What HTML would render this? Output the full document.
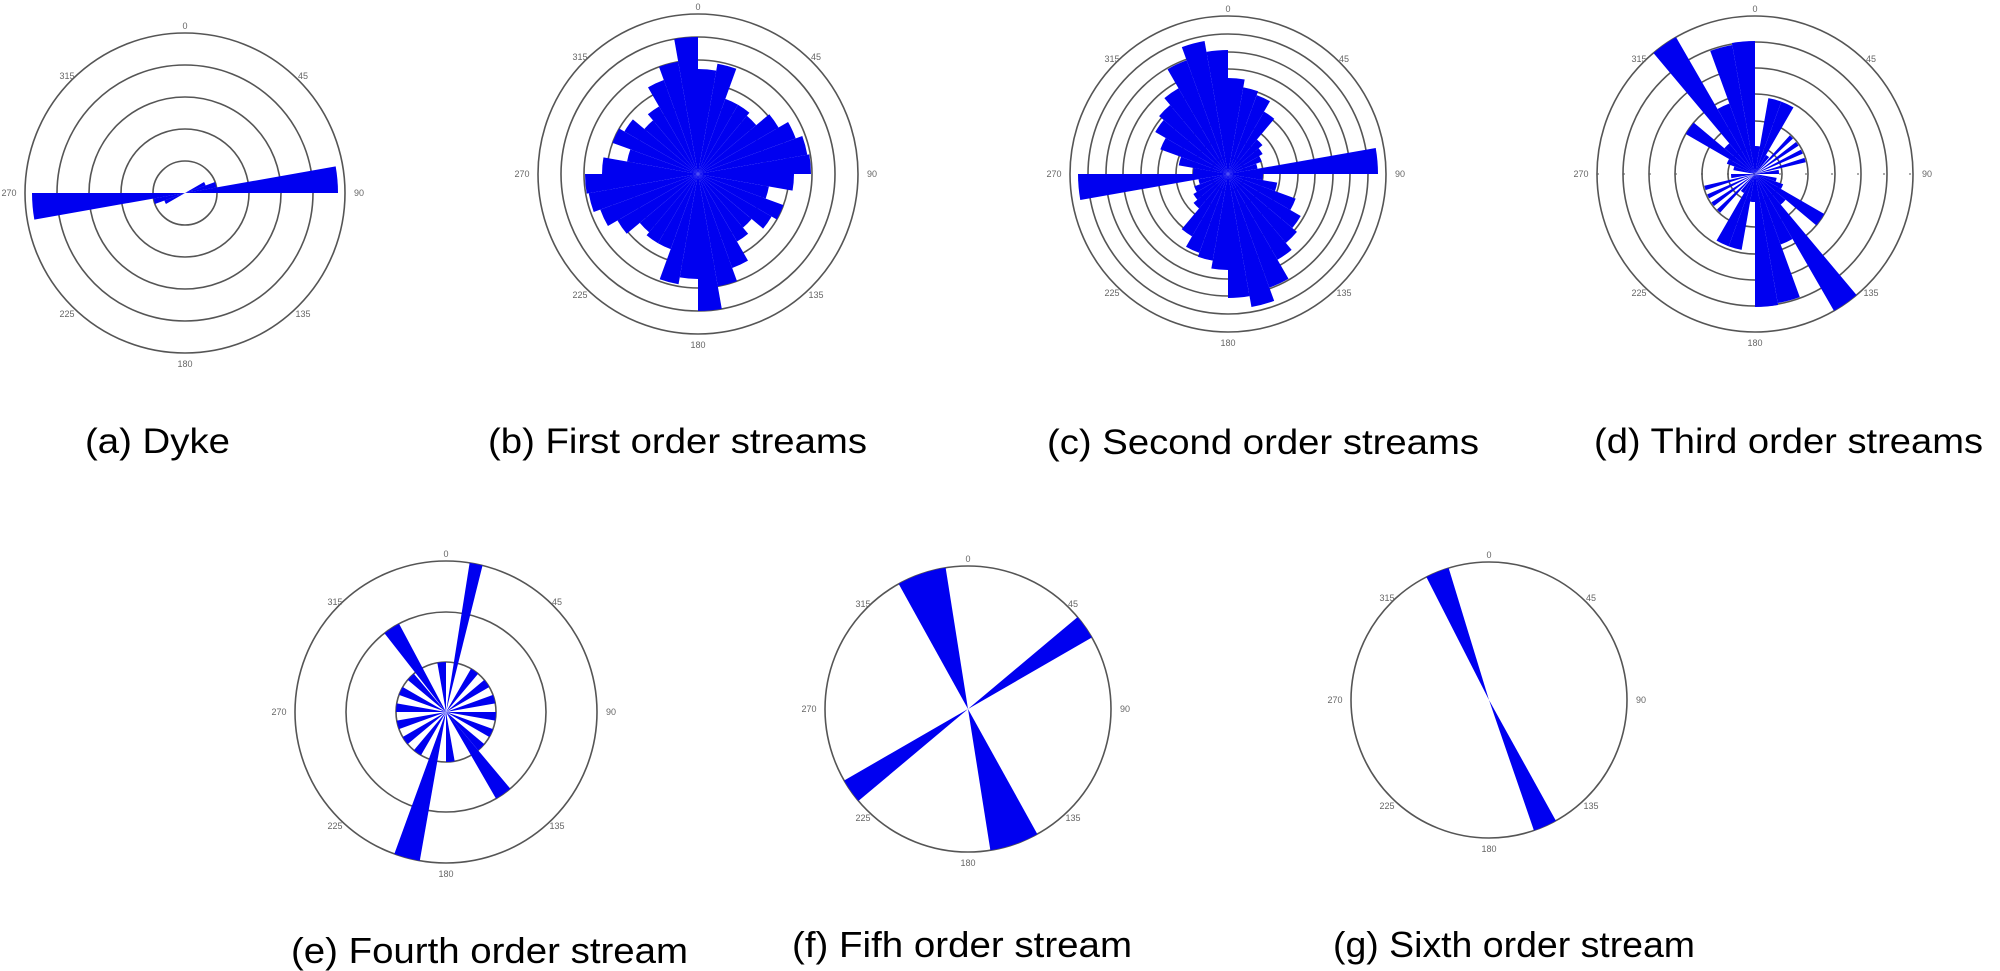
<!DOCTYPE html>
<html><head><meta charset="utf-8"><style>
html,body{margin:0;padding:0;background:#fff;}
svg{display:block;}
.r{fill:none;stroke:#555;stroke-width:1.6;}
.b{fill:#0000f0;}
.t{font-family:"Liberation Sans",Arial,sans-serif;fill:#000;}
.s{font-family:"Liberation Sans",Arial,sans-serif;fill:#666;font-size:9px;text-anchor:middle;}
</style></head><body>
<svg width="2000" height="971" viewBox="0 0 2000 971" xmlns="http://www.w3.org/2000/svg">
<defs>
<path id="w10" d="M0 0 L0 -1 A1 1 0 0 1 0.17365 -0.98481 Z"/>
<path id="w5" d="M0 0 L0 -1 A1 1 0 0 1 0.08716 -0.99619 Z"/>
<path id="w20" d="M0 0 L0 -1 A1 1 0 0 1 0.34202 -0.93969 Z"/>
<path id="w12" d="M0 0 L0 -1 A1 1 0 0 1 0.20791 -0.97815 Z"/>
</defs>

<!-- (a) Dyke -->
<g transform="translate(185,193)">
<circle class="r" r="160"/><circle class="r" r="128"/><circle class="r" r="96"/><circle class="r" r="64"/><circle class="r" r="32"/>
<g class="b">
<use href="#w10" transform="rotate(80) scale(153)"/><use href="#w10" transform="rotate(260) scale(153)"/>
<use href="#w10" transform="rotate(70) scale(32)"/><use href="#w10" transform="rotate(250) scale(32)"/>
<use href="#w10" transform="rotate(60) scale(22)"/><use href="#w10" transform="rotate(240) scale(22)"/>
</g>
<text class="s" x="0" y="-164">0</text><text class="s" x="0" y="174">180</text>
<text class="s" x="-176" y="3">270</text><text class="s" x="174" y="3">90</text>
<text class="s" x="-118" y="-114">315</text><text class="s" x="118" y="-114">45</text>
<text class="s" x="-118" y="124">225</text><text class="s" x="118" y="124">135</text>
</g>

<!-- (b) First order -->
<g transform="translate(698,174)">
<circle class="r" r="160"/><circle class="r" r="137"/><circle class="r" r="114"/><circle class="r" r="91"/><circle class="r" r="68"/>
<g class="b">
<use href="#w10" transform="rotate(0) scale(105)"/><use href="#w10" transform="rotate(180) scale(105)"/>
<use href="#w10" transform="rotate(10) scale(112)"/><use href="#w10" transform="rotate(190) scale(112)"/>
<use href="#w10" transform="rotate(20) scale(80)"/><use href="#w10" transform="rotate(200) scale(80)"/>
<use href="#w10" transform="rotate(30) scale(80)"/><use href="#w10" transform="rotate(210) scale(80)"/>
<use href="#w10" transform="rotate(40) scale(76)"/><use href="#w10" transform="rotate(220) scale(76)"/>
<use href="#w10" transform="rotate(50) scale(93)"/><use href="#w10" transform="rotate(230) scale(93)"/>
<use href="#w10" transform="rotate(60) scale(104)"/><use href="#w10" transform="rotate(240) scale(104)"/>
<use href="#w10" transform="rotate(70) scale(111)"/><use href="#w10" transform="rotate(250) scale(111)"/>
<use href="#w10" transform="rotate(80) scale(113)"/><use href="#w10" transform="rotate(260) scale(113)"/>
<use href="#w10" transform="rotate(90) scale(96)"/><use href="#w10" transform="rotate(270) scale(96)"/>
<use href="#w10" transform="rotate(100) scale(72)"/><use href="#w10" transform="rotate(280) scale(72)"/>
<use href="#w10" transform="rotate(110) scale(91)"/><use href="#w10" transform="rotate(290) scale(91)"/>
<use href="#w10" transform="rotate(120) scale(85)"/><use href="#w10" transform="rotate(300) scale(85)"/>
<use href="#w10" transform="rotate(130) scale(70)"/><use href="#w10" transform="rotate(310) scale(70)"/>
<use href="#w10" transform="rotate(140) scale(78)"/><use href="#w10" transform="rotate(320) scale(78)"/>
<use href="#w10" transform="rotate(150) scale(100)"/><use href="#w10" transform="rotate(330) scale(100)"/>
<use href="#w10" transform="rotate(160) scale(114)"/><use href="#w10" transform="rotate(340) scale(114)"/>
<use href="#w10" transform="rotate(170) scale(137)"/><use href="#w10" transform="rotate(350) scale(137)"/>
</g>
<text class="s" x="0" y="-164">0</text><text class="s" x="0" y="174">180</text>
<text class="s" x="-176" y="3">270</text><text class="s" x="174" y="3">90</text>
<text class="s" x="-118" y="-114">315</text><text class="s" x="118" y="-114">45</text>
<text class="s" x="-118" y="124">225</text><text class="s" x="118" y="124">135</text>
</g>

<!-- (c) Second order -->
<g transform="translate(1228,174)">
<circle class="r" r="158"/><circle class="r" r="140"/><circle class="r" r="122"/><circle class="r" r="105"/><circle class="r" r="87"/><circle class="r" r="70"/><circle class="r" r="52"/><circle class="r" r="35"/><circle class="r" r="17"/>
<g class="b">
<use href="#w10" transform="rotate(0) scale(96)"/><use href="#w10" transform="rotate(180) scale(96)"/>
<use href="#w10" transform="rotate(10) scale(88)"/><use href="#w10" transform="rotate(190) scale(88)"/>
<use href="#w10" transform="rotate(20) scale(84)"/><use href="#w10" transform="rotate(200) scale(84)"/>
<use href="#w10" transform="rotate(30) scale(72)"/><use href="#w10" transform="rotate(210) scale(72)"/>
<use href="#w10" transform="rotate(40) scale(45)"/><use href="#w10" transform="rotate(220) scale(45)"/>
<use href="#w10" transform="rotate(50) scale(40)"/><use href="#w10" transform="rotate(230) scale(40)"/>
<use href="#w10" transform="rotate(60) scale(36)"/><use href="#w10" transform="rotate(240) scale(36)"/>
<use href="#w10" transform="rotate(70) scale(30)"/><use href="#w10" transform="rotate(250) scale(30)"/>
<use href="#w10" transform="rotate(80) scale(150)"/><use href="#w10" transform="rotate(260) scale(150)"/>
<use href="#w10" transform="rotate(90) scale(35)"/><use href="#w10" transform="rotate(270) scale(35)"/>
<use href="#w10" transform="rotate(100) scale(50)"/><use href="#w10" transform="rotate(280) scale(50)"/>
<use href="#w10" transform="rotate(110) scale(72)"/><use href="#w10" transform="rotate(290) scale(72)"/>
<use href="#w10" transform="rotate(120) scale(84)"/><use href="#w10" transform="rotate(300) scale(84)"/>
<use href="#w10" transform="rotate(130) scale(90)"/><use href="#w10" transform="rotate(310) scale(90)"/>
<use href="#w10" transform="rotate(140) scale(99)"/><use href="#w10" transform="rotate(320) scale(99)"/>
<use href="#w10" transform="rotate(150) scale(121)"/><use href="#w10" transform="rotate(330) scale(121)"/>
<use href="#w10" transform="rotate(160) scale(135)"/><use href="#w10" transform="rotate(340) scale(135)"/>
<use href="#w10" transform="rotate(170) scale(124)"/><use href="#w10" transform="rotate(350) scale(124)"/>
</g>
<text class="s" x="0" y="-162">0</text><text class="s" x="0" y="172">180</text>
<text class="s" x="-174" y="3">270</text><text class="s" x="172" y="3">90</text>
<text class="s" x="-116" y="-112">315</text><text class="s" x="116" y="-112">45</text>
<text class="s" x="-116" y="122">225</text><text class="s" x="116" y="122">135</text>
</g>

<!-- (d) Third order -->
<g transform="translate(1755,174)">
<circle class="r" r="158"/><circle class="r" r="132"/><circle class="r" r="106"/><circle class="r" r="80"/><circle class="r" r="53"/><circle class="r" r="27"/>
<line x1="-158" y1="0" x2="158" y2="0" stroke="#555" stroke-width="1" stroke-dasharray="2 24"/>
<g class="b">
<use href="#w10" transform="rotate(0) scale(28)"/><use href="#w10" transform="rotate(180) scale(28)"/>
<use href="#w10" transform="rotate(10) scale(77)"/><use href="#w10" transform="rotate(190) scale(77)"/>
<use href="#w10" transform="rotate(20) scale(77)"/><use href="#w10" transform="rotate(200) scale(77)"/>
<use href="#w10" transform="rotate(30) scale(22)"/><use href="#w10" transform="rotate(210) scale(22)"/>
<use href="#w5" transform="rotate(42) scale(52)"/><use href="#w5" transform="rotate(222) scale(52)"/>
<use href="#w5" transform="rotate(52) scale(52)"/><use href="#w5" transform="rotate(232) scale(52)"/>
<use href="#w5" transform="rotate(62) scale(52)"/><use href="#w5" transform="rotate(242) scale(52)"/>
<use href="#w5" transform="rotate(72) scale(52)"/><use href="#w5" transform="rotate(252) scale(52)"/>
<use href="#w10" transform="rotate(80) scale(24)"/><use href="#w10" transform="rotate(260) scale(24)"/>
<use href="#w10" transform="rotate(100) scale(22)"/><use href="#w10" transform="rotate(280) scale(22)"/>
<use href="#w10" transform="rotate(110) scale(30)"/><use href="#w10" transform="rotate(290) scale(30)"/>
<use href="#w10" transform="rotate(120) scale(80)"/><use href="#w10" transform="rotate(300) scale(80)"/>
<use href="#w10" transform="rotate(130) scale(40)"/><use href="#w10" transform="rotate(310) scale(40)"/>
<use href="#w10" transform="rotate(140) scale(158)"/><use href="#w10" transform="rotate(320) scale(158)"/>
<use href="#w10" transform="rotate(150) scale(75)"/><use href="#w10" transform="rotate(330) scale(75)"/>
<use href="#w10" transform="rotate(160) scale(131)"/><use href="#w10" transform="rotate(340) scale(131)"/>
<use href="#w10" transform="rotate(170) scale(133)"/><use href="#w10" transform="rotate(350) scale(133)"/>
</g>
<text class="s" x="0" y="-162">0</text><text class="s" x="0" y="172">180</text>
<text class="s" x="-174" y="3">270</text><text class="s" x="172" y="3">90</text>
<text class="s" x="-116" y="-112">315</text><text class="s" x="116" y="-112">45</text>
<text class="s" x="-116" y="122">225</text><text class="s" x="116" y="122">135</text>
</g>

<!-- (e) Fourth order -->
<g transform="translate(446,712)">
<circle class="r" r="151"/><circle class="r" r="100"/><circle class="r" r="50"/>
<g class="b">
<use href="#w5" transform="rotate(9) scale(151)"/><use href="#w10" transform="rotate(190) scale(151)"/>
<use href="#w10" transform="rotate(322) scale(100)"/><use href="#w10" transform="rotate(140) scale(100)"/>
<use href="#w10" transform="rotate(30) scale(50)"/><use href="#w10" transform="rotate(210) scale(50)"/>
<use href="#w10" transform="rotate(50) scale(50)"/><use href="#w10" transform="rotate(230) scale(50)"/>
<use href="#w10" transform="rotate(70) scale(50)"/><use href="#w10" transform="rotate(250) scale(50)"/>
<use href="#w10" transform="rotate(90) scale(50)"/><use href="#w10" transform="rotate(270) scale(50)"/>
<use href="#w10" transform="rotate(110) scale(50)"/><use href="#w10" transform="rotate(290) scale(50)"/>
<use href="#w10" transform="rotate(130) scale(50)"/><use href="#w10" transform="rotate(310) scale(50)"/>
<use href="#w10" transform="rotate(170) scale(50)"/><use href="#w10" transform="rotate(350) scale(50)"/>
</g>
<text class="s" x="0" y="-155">0</text><text class="s" x="0" y="165">180</text>
<text class="s" x="-167" y="3">270</text><text class="s" x="165" y="3">90</text>
<text class="s" x="-111" y="-107">315</text><text class="s" x="111" y="-107">45</text>
<text class="s" x="-111" y="117">225</text><text class="s" x="111" y="117">135</text>
</g>

<!-- (f) Fifth order -->
<g transform="translate(968,709)">
<circle class="r" r="143"/>
<g class="b">
<use href="#w20" transform="rotate(331) scale(143)"/><use href="#w20" transform="rotate(151) scale(143)"/>
<use href="#w10" transform="rotate(50) scale(143)"/><use href="#w10" transform="rotate(230) scale(143)"/>
</g>
<text class="s" x="0" y="-147">0</text><text class="s" x="0" y="157">180</text>
<text class="s" x="-159" y="3">270</text><text class="s" x="157" y="3">90</text>
<text class="s" x="-105" y="-102">315</text><text class="s" x="105" y="-102">45</text>
<text class="s" x="-105" y="112">225</text><text class="s" x="105" y="112">135</text>
</g>

<!-- (g) Sixth order -->
<g transform="translate(1489,700)">
<circle class="r" r="138"/>
<g class="b">
<use href="#w10" transform="rotate(333) scale(138)"/><use href="#w10" transform="rotate(151) scale(138)"/>
</g>
<text class="s" x="0" y="-142">0</text><text class="s" x="0" y="152">180</text>
<text class="s" x="-154" y="3">270</text><text class="s" x="152" y="3">90</text>
<text class="s" x="-102" y="-99">315</text><text class="s" x="102" y="-99">45</text>
<text class="s" x="-102" y="109">225</text><text class="s" x="102" y="109">135</text>
</g>

<!-- labels -->
<text class="t" x="85" y="453" font-size="35" textLength="145" lengthAdjust="spacingAndGlyphs">(a) Dyke</text>
<text class="t" x="488" y="453" font-size="35" textLength="379" lengthAdjust="spacingAndGlyphs">(b) First order streams</text>
<text class="t" x="1047" y="454" font-size="35" textLength="432" lengthAdjust="spacingAndGlyphs">(c) Second order streams</text>
<text class="t" x="1594" y="453" font-size="35" textLength="389" lengthAdjust="spacingAndGlyphs">(d) Third order streams</text>
<text class="t" x="291" y="963" font-size="36" textLength="397" lengthAdjust="spacingAndGlyphs">(e) Fourth order stream</text>
<text class="t" x="792" y="957" font-size="36" textLength="340" lengthAdjust="spacingAndGlyphs">(f) Fifh order stream</text>
<text class="t" x="1333" y="957" font-size="36" textLength="362" lengthAdjust="spacingAndGlyphs">(g) Sixth order stream</text>
</svg>
</body></html>
